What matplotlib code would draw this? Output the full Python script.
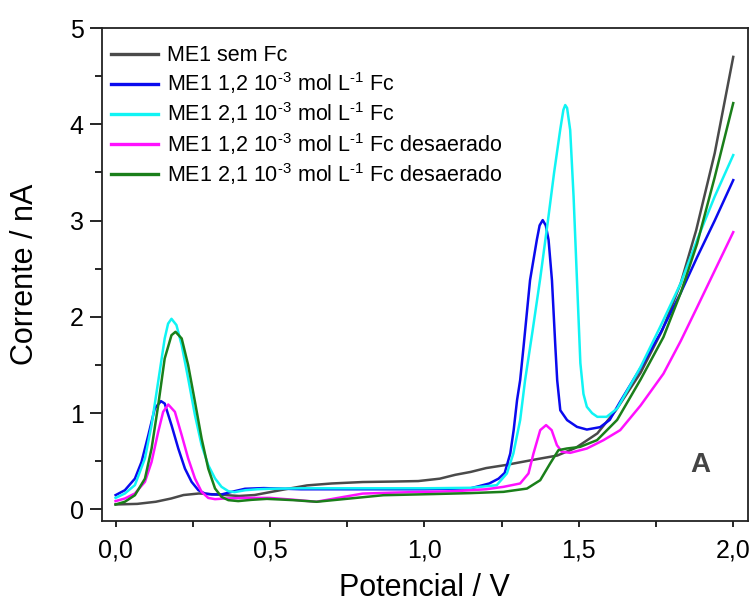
import matplotlib
matplotlib.use("Agg")
import matplotlib.pyplot as plt
from matplotlib.ticker import MultipleLocator, FuncFormatter

plt.rcParams['font.family'] = ['Liberation Sans', 'DejaVu Sans']
plt.rcParams['mathtext.fontset'] = 'custom'
plt.rcParams['mathtext.rm'] = 'Liberation Sans'
plt.rcParams['mathtext.it'] = 'Liberation Sans'

# ME1 sem Fc
x_sem = [0.0, 0.07, 0.13, 0.18, 0.22, 0.27, 0.33, 0.40, 0.45, 0.50, 0.55, 0.62, 0.70, 0.80,
         0.90, 0.98, 1.05, 1.10, 1.15, 1.20, 1.26, 1.31, 1.36, 1.43, 1.49, 1.56, 1.62, 1.70,
         1.77, 1.83, 1.88, 1.94, 2.0]
y_sem = [0.052, 0.058, 0.08, 0.114, 0.15, 0.166, 0.155, 0.14, 0.15, 0.18, 0.21, 0.25, 0.27, 0.285,
         0.29, 0.295, 0.32, 0.36, 0.39, 0.43, 0.46, 0.49, 0.52, 0.56, 0.64, 0.79, 1.03, 1.42,
         1.86, 2.35, 2.9, 3.7, 4.7]

# ME1 1,2 Fc
x_12 = [0.0, 0.03, 0.0625, 0.084, 0.106, 0.127, 0.147, 0.159, 0.181, 0.203, 0.2245, 0.246, 0.268,
        0.289, 0.311, 0.343, 0.376, 0.419, 0.48, 0.6, 0.8, 1.0, 1.15, 1.21, 1.24, 1.26, 1.278,
        1.289, 1.30, 1.31, 1.321, 1.342, 1.364, 1.373, 1.383, 1.393, 1.402, 1.413, 1.424, 1.43,
        1.44, 1.462, 1.494, 1.526, 1.569, 1.60, 1.634, 1.70, 1.764, 1.83, 1.883, 1.94, 2.0]
y_12 = [0.149, 0.2, 0.32, 0.494, 0.772, 1.05, 1.125, 1.10, 0.876, 0.633, 0.425, 0.287, 0.2,
        0.166, 0.156, 0.156, 0.183, 0.215, 0.222, 0.21, 0.21, 0.21, 0.22, 0.27, 0.32, 0.38, 0.581,
        0.824, 1.136, 1.343, 1.69, 2.38, 2.80, 2.95, 3.005, 2.95, 2.80, 2.38, 1.69, 1.34,
        1.03, 0.928, 0.858, 0.83, 0.855, 0.93, 1.12, 1.47, 1.83, 2.25, 2.62, 3.0, 3.42]

# ME1 2,1 Fc
x_21 = [0.0, 0.03, 0.0625, 0.095, 0.1165, 0.138, 0.159, 0.17, 0.181, 0.197, 0.214, 0.235, 0.257,
        0.2785, 0.30, 0.322, 0.343, 0.365, 0.385, 0.42, 0.46, 0.5, 0.6, 0.8, 1.0, 1.15, 1.234,
        1.267, 1.288, 1.31, 1.326, 1.35, 1.375, 1.40, 1.42, 1.44, 1.45, 1.456, 1.462, 1.472,
        1.483, 1.494, 1.505, 1.515, 1.526, 1.543, 1.56, 1.59, 1.624, 1.70, 1.764, 1.83, 1.883,
        1.94, 2.0]
y_21 = [0.12, 0.166, 0.253, 0.53, 0.876, 1.33, 1.776, 1.93, 1.98, 1.915, 1.707, 1.36, 0.98,
        0.668, 0.46, 0.322, 0.235, 0.19, 0.18, 0.2, 0.21, 0.215, 0.22, 0.22, 0.22, 0.225, 0.252,
        0.374, 0.581, 0.928, 1.343, 1.85, 2.4, 3.0, 3.5, 3.95, 4.15, 4.2, 4.17, 3.94,
        3.25, 2.38, 1.52, 1.2, 1.066, 1.0, 0.962, 0.962, 1.048, 1.48, 1.9, 2.35, 2.8,
        3.25, 3.68]

# ME1 1,2 Fc desaerado
x_12d = [0.0, 0.03, 0.0625, 0.095, 0.1165, 0.138, 0.154, 0.1705, 0.192, 0.214, 0.235, 0.257,
         0.2785, 0.30, 0.322, 0.354, 0.42, 0.5, 0.58, 0.65, 0.72, 0.8, 0.9, 1.0, 1.1, 1.2, 1.256,
         1.31, 1.337, 1.353, 1.375, 1.394, 1.412, 1.429, 1.445, 1.472, 1.526, 1.58, 1.634, 1.70,
         1.774, 1.83, 1.883, 1.94, 2.0]
y_12d = [0.087, 0.114, 0.166, 0.287, 0.494, 0.806, 1.014, 1.09, 1.014, 0.772, 0.53, 0.322,
         0.183, 0.12, 0.107, 0.114, 0.12, 0.12, 0.1, 0.08, 0.12, 0.165, 0.175, 0.183, 0.19, 0.21,
         0.235, 0.27, 0.374, 0.58, 0.824, 0.876, 0.824, 0.668, 0.6, 0.588, 0.633, 0.72, 0.824,
         1.08, 1.41, 1.75, 2.1, 2.48, 2.88]

# ME1 2,1 Fc desaerado
x_21d = [0.0, 0.03, 0.0625, 0.095, 0.1165, 0.138, 0.159, 0.181, 0.194, 0.214, 0.235, 0.257,
         0.2785, 0.30, 0.322, 0.343, 0.365, 0.397, 0.44, 0.49, 0.575, 0.651, 0.759, 0.867, 1.029,
         1.15, 1.256, 1.332, 1.375, 1.407, 1.434, 1.461, 1.504, 1.559, 1.624, 1.70, 1.774, 1.83,
         1.883, 1.94, 2.0]
y_21d = [0.052, 0.08, 0.148, 0.32, 0.633, 1.083, 1.568, 1.81, 1.845, 1.776, 1.499, 1.118,
         0.737, 0.425, 0.218, 0.131, 0.097, 0.087, 0.1, 0.11, 0.097, 0.08, 0.114, 0.148, 0.16,
         0.17, 0.183, 0.217, 0.304, 0.477, 0.616, 0.633, 0.65, 0.72, 0.93, 1.35, 1.79, 2.25,
         2.76, 3.45, 4.22]

labels = ["ME1 sem Fc",
          r"ME1 1,2 10$^{\text{-3}}$ mol L$^{\text{-1}}$ Fc",
          r"ME1 2,1 10$^{\text{-3}}$ mol L$^{\text{-1}}$ Fc",
          r"ME1 1,2 10$^{\text{-3}}$ mol L$^{\text{-1}}$ Fc desaerado",
          r"ME1 2,1 10$^{\text{-3}}$ mol L$^{\text{-1}}$ Fc desaerado"]
colors = ['#4a4a4a', '#0a0aee', '#10f4f4', '#ff10ff', '#1a7f1a']
series = [(x_sem, y_sem), (x_12, y_12), (x_21, y_21), (x_12d, y_12d), (x_21d, y_21d)]

fig = plt.figure(figsize=(7.5, 6.05), dpi=100)
ax = fig.add_axes([0.1356, 0.1388, 0.997 - 0.1356, 0.9537 - 0.1388])

for (xs, ys), c, lab in zip(series, colors, labels):
    ax.plot(xs, ys, color=c, lw=1.8, label=lab)

ax.set_xlim(-0.045, 2.047)
ax.set_ylim(-0.12, 5.0)

ax.xaxis.set_major_locator(MultipleLocator(0.5))
ax.xaxis.set_minor_locator(MultipleLocator(0.25))
ax.yaxis.set_major_locator(MultipleLocator(1))
ax.yaxis.set_minor_locator(MultipleLocator(0.5))
ax.xaxis.set_major_formatter(FuncFormatter(lambda v, p: f"{v:.1f}".replace('.', ',')))

ax.tick_params(axis='x', which='major', direction='out', length=4.5, width=1.2,
               labelsize=18, pad=8, top=False)
ax.tick_params(axis='x', which='minor', direction='out', length=4, width=1.2, top=False)
ax.tick_params(axis='y', which='major', direction='out', length=9, width=1.2,
               labelsize=18, pad=4, right=False)
ax.tick_params(axis='y', which='minor', direction='out', length=5, width=1.2, right=False)

for s in ax.spines.values():
    s.set_linewidth(1.3)
    s.set_color('#222222')

ax.set_xlabel("Potencial / V", fontsize=22, labelpad=8)
ax.set_ylabel("Corrente / nA", fontsize=22, labelpad=21)

ax.text(1.893, 0.46, "A", fontsize=20, fontweight='bold', color='#444444',
        ha='center', va='center')

leg = ax.legend(loc='upper left', bbox_to_anchor=(-0.009, 0.996), frameon=False, fontsize=15.5,
                handlelength=2.2, handletextpad=0.4, labelspacing=0.2, borderaxespad=0.3)
for h in leg.get_lines():
    h.set_linewidth(2.4)

fig.savefig("out.png", dpi=100)
